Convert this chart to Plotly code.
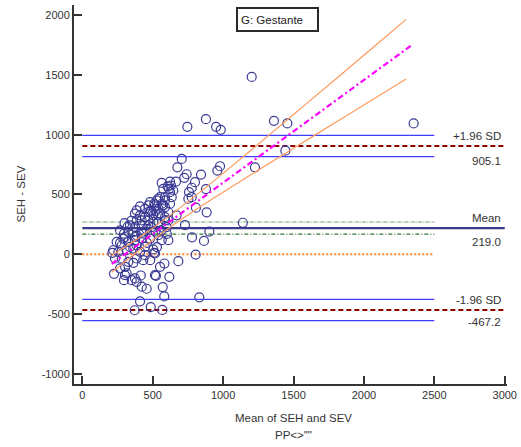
import plotly.graph_objects as go

# Bland-Altman data: mean of the two methods vs. their difference
mean_vals = [
    1203, 878, 746, 950, 983, 1361, 1456, 2353, 1442, 1226,
    1140, 902, 864, 779, 729, 805, 682, 831, 618, 523,
    571, 582, 568, 486, 372, 410, 457, 422, 386, 351,
    296, 315, 225, 415, 583, 509, 482, 363, 304, 232,
    214, 268, 296, 322, 516, 552, 327, 433, 386, 280,
    268, 303, 374, 256, 220, 315, 362, 410, 445, 516,
    244, 291, 327, 374, 422, 481, 564, 611,
    706, 675, 741, 724, 843, 800, 777, 758, 777, 878,
    959, 978, 665, 623, 564, 606, 646, 623, 587, 540,
    481, 469, 516, 575, 623, 386, 630, 575, 616, 552,
    528, 587, 565, 511, 540, 488, 587, 611, 552, 504,
    469, 445, 410, 374, 386, 422, 469, 339, 374, 422,
    469, 540, 587, 327, 362, 386, 303, 807, 883, 670,
    611, 753, 635, 481, 540, 587, 492, 599, 268, 374,
    433, 280, 339, 386, 445, 504,
    410, 445, 520, 455, 520, 560, 505, 420, 350, 300,
    460, 540, 600, 530,
]
diff_vals = [
    1483, 1130, 1066, 1066, 1041, 1116, 1094, 1094, 866, 727,
    263, 189, 111, 141, 244, -3, -58, -361, -189, -181,
    -275, -353, -466, -442, -469, -394, -289, -272, -231, -217,
    -217, -161, -164, -178, -78, 11, -50, -72, -106, -36,
    11, 94, 172, 228, -175, -106, -64, -50, -36, -36,
    -119, -175, -203, 19, 33, 33, 47, 19, -8, 6,
    103, 131, 103, 117, 131, 131, 117, 117,
    797, 727, 669, 639, 666, 603, 556, 519, 477, 545,
    700, 736, 608, 608, 597, 567, 533, 519, 477, 464,
    436, 408, 408, 408, 422, 367, 575, 547, 547, 477,
    450, 450, 422, 422, 381, 367, 394, 353, 339, 325,
    353, 311, 325, 339, 283, 283, 283, 242, 227, 242,
    242, 269, 283, 186, 186, 158, 144, 389, 350, 325,
    283, 464, 477, 353, 325, 311, 227, 227, 200, 144,
    172, 75, 61, 75, 61, 40,
    400, 380, 360, 210, 190, 200, 270, 180, 280, 260,
    95, 160, 170, 60,
]

# Summary statistics (mean difference, limits of agreement and their 95% CIs)
mean_diff = 219.0
mean_ci = [270, 168]
upper_loa = 905.1
upper_loa_ci = [994, 816]
lower_loa = -467.2
lower_loa_ci = [-378, -556]
zero_line = 0

# Regression of difference on mean, with its 95% confidence band
reg_x = [209, 2340]
reg_y = [-81, 1749]
band_x = [209, 400, 600, 800, 1000, 1200, 1500, 1800, 2100, 2300]
band_upper = [-10, 136, 304, 486, 677, 872, 1169, 1466, 1765, 1965]
band_lower = [-151, 29, 205, 367, 519, 667, 886, 1104, 1321, 1465]

x_ticks = [0, 500, 1000, 1500, 2000, 2500, 3000]
y_ticks = [-1000, -500, 0, 500, 1000, 1500, 2000]

FONT = "Liberation Sans, Arial, sans-serif"
TXT = "#333333"

fig = go.Figure()


def hline(y, x_end, color, width, dash="solid"):
    fig.add_trace(go.Scatter(
        x=[0, x_end], y=[y, y], mode="lines",
        line=dict(color=color, width=width, dash=dash),
        hoverinfo="skip", showlegend=False,
    ))


# Confidence limits of the limits of agreement
for v in upper_loa_ci + lower_loa_ci:
    hline(v, 2500, "#3d3dff", 1.3)
# Confidence limits of the mean difference
hline(mean_ci[0], 2500, "#6aa86a", 1.1, "4px,1px,1px,1px")
hline(mean_ci[1], 2500, "#2f7a2f", 1.1, "4px,2px,1px,2px")
# Line of equality
hline(zero_line, 2500, "#ff7f27", 2, "2px,2px")
# Mean difference and limits of agreement
hline(mean_diff, 3000, "#3b3b8c", 2.2)
hline(upper_loa, 3000, "#8b0000", 2, "5px,3px")
hline(lower_loa, 3000, "#8b0000", 2, "5px,3px")

# Observations
fig.add_trace(go.Scatter(
    x=mean_vals, y=diff_vals, mode="markers",
    marker=dict(symbol="circle-open", size=9, color="#3a3a96",
                line=dict(width=1.2, color="#3a3a96")),
    hoverinfo="skip", showlegend=False,
))

# Regression confidence band and regression line
for band in (band_upper, band_lower):
    fig.add_trace(go.Scatter(
        x=band_x, y=band, mode="lines",
        line=dict(color="#ff9a5c", width=1.2, shape="spline"),
        hoverinfo="skip", showlegend=False,
    ))
fig.add_trace(go.Scatter(
    x=reg_x, y=reg_y, mode="lines",
    line=dict(color="#ff00ff", width=2.2, dash="6px,3px,2px,3px"),
    hoverinfo="skip", showlegend=False,
))

# Right-hand labels
labels = [
    ("+1.96 SD", upper_loa, "bottom", 2),
    (f"{upper_loa:.1f}", upper_loa, "top", -7),
    ("Mean", mean_diff, "bottom", 2),
    (f"{mean_diff:.1f}", mean_diff, "top", -6),
    ("-1.96 SD", lower_loa, "bottom", 2),
    (f"{lower_loa:.1f}", lower_loa, "top", -4),
]
for text, y, anchor, shift in labels:
    fig.add_annotation(
        x=2990, y=y, xref="x", yref="y", text=text, showarrow=False,
        xanchor="right", yanchor=anchor, yshift=shift,
        font=dict(family=FONT, size=11.5, color=TXT),
    )

# Group label box
fig.add_annotation(
    xref="paper", yref="paper", x=0.3734, y=0.9947,
    xanchor="left", yanchor="top", text="G: Gestante", showarrow=False,
    align="left", width=73, height=15, borderpad=3,
    bordercolor="#2a2a2a", borderwidth=2, bgcolor="white",
    font=dict(family=FONT, size=11.5, color="#222222"),
)

# Axis titles
fig.add_annotation(
    xref="paper", yref="paper", x=0, y=0.5, xanchor="center", xshift=-54,
    text="SEH - SEV", textangle=-90, showarrow=False,
    font=dict(family=FONT, size=11.5, color=TXT),
)
fig.add_annotation(
    xref="x", yref="paper", x=1500, y=0, yanchor="top", yshift=-26,
    text="Mean of SEH and SEV", showarrow=False,
    font=dict(family=FONT, size=11.5, color=TXT),
)
fig.add_annotation(
    xref="x", yref="paper", x=1500, y=0, yanchor="top", yshift=-43,
    text="PP&lt;&gt;\"\"", showarrow=False,
    font=dict(family=FONT, size=11.5, color=TXT),
)

axis_common = dict(
    showgrid=False, zeroline=False, showline=True, linecolor="#333333",
    linewidth=2, ticks="inside", ticklen=8, tickwidth=1.5, tickcolor="#333333",
    tickfont=dict(family=FONT, size=11, color=TXT),
)
fig.update_xaxes(range=[-59, 3016], tickvals=x_ticks,
                 ticktext=[str(v) for v in x_ticks], **axis_common)
fig.update_yaxes(range=[-1086, 2085], tickvals=y_ticks,
                 ticktext=[str(v) for v in y_ticks], **axis_common)

fig.update_layout(
    width=521, height=447,
    margin=dict(l=74, r=14, t=5, b=63),
    plot_bgcolor="white", paper_bgcolor="white",
    showlegend=False,
)

fig.write_html("out.html")
